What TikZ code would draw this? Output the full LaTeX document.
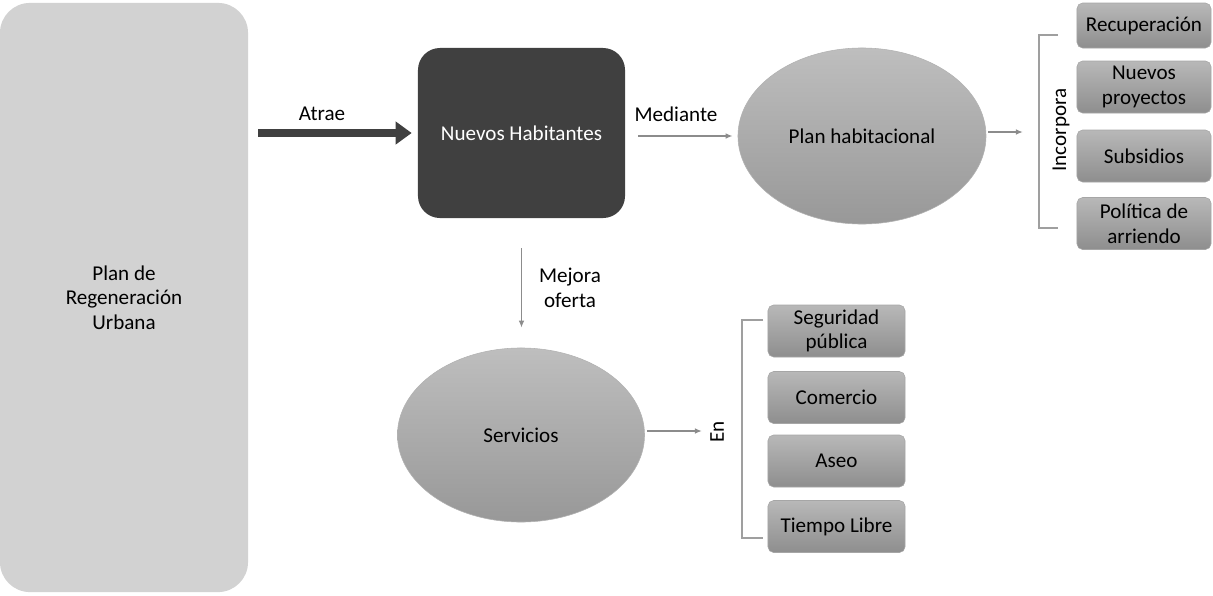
\documentclass[tikz,border=0pt]{standalone}
\usepackage{fontspec}
\setmainfont{Carlito}
\usetikzlibrary{arrows.meta,shapes.geometric}

\definecolor{oscuro}{HTML}{404040}
\definecolor{claro}{HTML}{D2D2D2}
\definecolor{elltop}{HTML}{BEBEBE}
\definecolor{ellbot}{HTML}{989898}
\definecolor{cajatop}{HTML}{B8B8B8}
\definecolor{cajabot}{HTML}{8E8E8E}
\definecolor{gris}{HTML}{8C8C8C}

\tikzset{
  caja/.style={rounded corners=4pt, top color=cajatop, bottom color=cajabot,
    draw=gray!70, line width=0.4pt, minimum width=3.35cm, minimum height=1.3cm,
    align=center, inner sep=2pt},
  elipse/.style={ellipse, top color=elltop, bottom color=ellbot, draw=gray!60,
    line width=0.4pt, inner sep=0pt},
  grueso/.style={draw=oscuro, line width=0.22cm, -{Triangle[width=0.55cm,length=0.4cm]}},
  fino/.style={draw=gris, line width=1.1pt, -{Latex[length=5pt,width=4pt]}},
  llave/.style={draw=gray!75, line width=1.1pt}
}

\begin{document}
\begin{tikzpicture}[x=0.025cm,y=-0.025cm,font=\fontsize{15}{17.5}\selectfont]
  \useasboundingbox (0,0) rectangle (1213,595);

  % main blocks
  \node[rounded corners=0.75cm, fill=claro, minimum width=6.2cm, minimum height=14.725cm,
    align=center] (plan) at (124,297.5) {Plan de\\Regeneración\\Urbana};
  \node[rounded corners=0.55cm, fill=oscuro, text=white, minimum width=5.175cm,
    minimum height=4.25cm] (nh) at (521.5,133) {Nuevos Habitantes};
  \node[elipse, minimum width=6.2cm, minimum height=4.4cm] (ph) at (862,136) {Plan habitacional};
  \node[elipse, minimum width=6.175cm, minimum height=4.35cm] (srv) at (521,435) {Servicios};

  % boxes on the right
  \begin{scope}[every node/.style={caja}]
    \node[minimum height=1.125cm] (rec) at (1144,25.5) {Recuperación};
    \node (np)  at (1144,87)    {Nuevos\\proyectos};
    \node (sub) at (1144,156)   {Subsidios};
    \node (pol) at (1144,223.5) {Política de\\arriendo};
  \end{scope}

  % boxes below
  \begin{scope}[every node/.style={caja, minimum width=3.425cm}]
    \node (seg) at (836.5,331)   {Seguridad\\pública};
    \node (com) at (836.5,397.5) {Comercio};
    \node (ase) at (836.5,461)   {Aseo};
    \node (tl)  at (836.5,526.5) {Tiempo Libre};
  \end{scope}

  % brackets
  \coordinate (inc-a) at (1058,35);
  \coordinate (inc-b) at (1039,35);
  \coordinate (inc-c) at (1039,228);
  \coordinate (inc-d) at (1058,228);
  \coordinate (inc)   at (1039,132);
  \coordinate (en-a) at (763,320);
  \coordinate (en-b) at (742,320);
  \coordinate (en-c) at (742,538);
  \coordinate (en-d) at (763,538);
  \coordinate (en)   at (742,431);
  \draw[llave] (inc-a) -- (inc-b) -- (inc-c) -- (inc-d);
  \draw[llave] (en-a) -- (en-b) -- (en-c) -- (en-d);

  % labels
  \node (l-atrae) at (322,114) {Atrae};
  \node (l-med)   at (676,114) {Mediante};
  \node[align=center] (l-mej) at (570,288) {Mejora\\oferta};
  \node[rotate=90] (l-inc) at (1061,130) {Incorpora};
  \node[rotate=90] (l-en)  at (717,432) {En};

  % connectors
  \draw[grueso, shorten <=0.25cm, shorten >=0.15cm] (plan.east |- nh.west) -- (nh.west);
  \draw[fino, shorten <=0.325cm, shorten >=0.125cm] (nh.east |- ph.west) -- (ph.west);
  \draw[fino, shorten <=0.05cm, shorten >=0.4cm] (inc -| ph.east) -- (inc);
  \draw[fino, shorten <=0.75cm, shorten >=0.5cm] (nh.south) -- (nh.south |- srv.north);
  \draw[fino, shorten <=0.05cm, shorten >=1cm] (en -| srv.east) -- (en);

\end{tikzpicture}
\end{document}
